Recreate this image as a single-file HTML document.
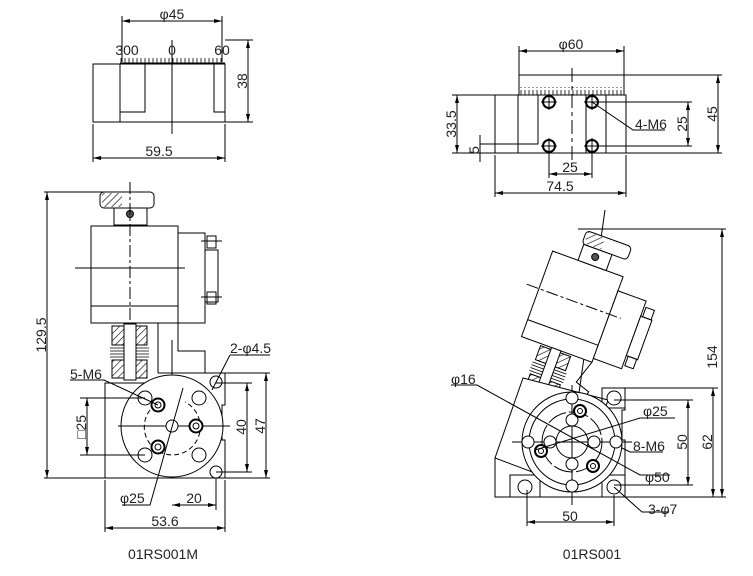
<!DOCTYPE html>
<html><head><meta charset="utf-8"><style>
html,body{margin:0;padding:0;background:#fff;}
svg{display:block;font-family:"Liberation Sans",sans-serif;}
text{font-size:14px;fill:#222;}
</style></head><body>
<svg width="753" height="576" viewBox="0 0 753 576" xmlns="http://www.w3.org/2000/svg">
<defs>
<pattern id="h" width="5" height="5" patternUnits="userSpaceOnUse" patternTransform="rotate(45)"><rect width="5" height="5" fill="#fff"/><line x1="0" y1="0" x2="0" y2="5" stroke="#000" stroke-width="1.2"/></pattern>
<pattern id="tk" width="4" height="8" patternUnits="userSpaceOnUse"><line x1="1" y1="2" x2="1" y2="8" stroke="#000" stroke-width="0.8"/></pattern>
<marker id="a" markerWidth="8" markerHeight="6" refX="8" refY="3" orient="auto-start-reverse"><path d="M0,1 L8,3 L0,5z" fill="#000"/></marker>
</defs>
<g stroke="#000" stroke-width="1" fill="none">
<!-- TOP LEFT -->
<line x1="122" y1="16" x2="122" y2="62"/><line x1="222" y1="16" x2="222" y2="62"/>
<line x1="122" y1="21" x2="222" y2="21" marker-start="url(#a)" marker-end="url(#a)"/>
<rect x="120" y="56" width="104" height="7" fill="url(#tk)" stroke="none"/>
<line x1="120" y1="63" x2="225" y2="63"/>
<rect x="93" y="64" width="132" height="58"/>
<line x1="120" y1="64" x2="120" y2="122"/><polyline points="120,112 145,112 145,64"/>
<polyline points="214,64 214,112 225,112"/>
<line x1="172" y1="40" x2="172" y2="134"/>
<line x1="225" y1="40" x2="253" y2="40"/><line x1="225" y1="122" x2="253" y2="122"/>
<line x1="248" y1="40" x2="248" y2="122" marker-start="url(#a)" marker-end="url(#a)"/>
<line x1="93" y1="124" x2="93" y2="162"/><line x1="225" y1="124" x2="225" y2="162"/>
<line x1="93" y1="158" x2="225" y2="158" marker-start="url(#a)" marker-end="url(#a)"/>

<!-- LEFT LOWER -->
<line x1="44" y1="192" x2="110" y2="192"/><line x1="44" y1="478" x2="105" y2="478"/>
<line x1="47" y1="192" x2="47" y2="478" marker-start="url(#a)" marker-end="url(#a)"/>
<rect x="100" y="192" width="54" height="16" rx="4"/>
<rect x="102" y="193" width="20" height="14" fill="url(#h)" stroke="none"/>
<rect x="114" y="208" width="33" height="17"/>
<circle cx="130" cy="214" r="3.5" fill="#555"/>
<rect x="91" y="226" width="87" height="97"/>
<line x1="91" y1="306" x2="178" y2="306"/>
<rect x="178" y="233" width="27" height="90"/>
<rect x="205" y="250" width="13" height="52"/>
<rect x="207" y="236" width="9" height="12"/><rect x="207" y="292" width="9" height="12"/>
<line x1="201" y1="241" x2="222" y2="241"/><line x1="201" y1="297" x2="222" y2="297"/>
<line x1="130" y1="182" x2="130" y2="350" stroke-dasharray="12,3,3,3"/>
<line x1="75" y1="268" x2="185" y2="268"/>
<rect x="112" y="326" width="35" height="19" fill="url(#h)"/>
<rect x="112" y="360" width="35" height="18" fill="url(#h)"/>
<g stroke-width="0.8"><line x1="110" y1="348" x2="149" y2="348"/><line x1="110" y1="351" x2="149" y2="351"/><line x1="110" y1="354" x2="149" y2="354"/><line x1="110" y1="357" x2="149" y2="357"/></g>
<rect x="124" y="324" width="12" height="56" fill="#fff"/>
<line x1="158" y1="323" x2="158" y2="373"/>
<polyline points="178,323 178,351 205,351 205,373"/>
<polyline points="158,373 225,373 225,405 222,405 222,440 225,440 225,478 105,478 105,383 160,383"/>
<line x1="172" y1="340" x2="172" y2="478"/>
<circle cx="172" cy="426" r="51" fill="#fff"/>
<path d="M150,410 A28,28 0 1 0 185,402" stroke-dasharray="5,3"/>
<line x1="118" y1="426" x2="230" y2="426"/>
<g fill="#fff"><circle cx="145" cy="398" r="7"/><circle cx="199" cy="398" r="7"/><circle cx="145" cy="455" r="7"/><circle cx="199" cy="455" r="7"/>
<circle cx="158" cy="405" r="6.5" stroke-width="2"/><circle cx="196" cy="426" r="6.5" stroke-width="2"/><circle cx="158" cy="447" r="6.5" stroke-width="2"/>
<circle cx="172" cy="426" r="6"/><circle cx="216" cy="382" r="6"/><circle cx="216" cy="472" r="6"/></g>
<circle cx="158" cy="405" r="3"/><circle cx="196" cy="426" r="3"/><circle cx="158" cy="447" r="3"/>
<line x1="80" y1="398" x2="145" y2="398"/><line x1="80" y1="455" x2="145" y2="455"/>
<line x1="87" y1="398" x2="87" y2="455" marker-start="url(#a)" marker-end="url(#a)"/>
<line x1="216" y1="383" x2="252" y2="383"/><line x1="216" y1="472" x2="252" y2="472"/>
<line x1="247" y1="383" x2="247" y2="472" marker-start="url(#a)" marker-end="url(#a)"/>
<line x1="225" y1="373" x2="270" y2="373"/><line x1="225" y1="478" x2="270" y2="478"/>
<line x1="266" y1="373" x2="266" y2="478" marker-start="url(#a)" marker-end="url(#a)"/>
<line x1="216" y1="478" x2="216" y2="510"/>
<line x1="172" y1="505" x2="216" y2="505" marker-start="url(#a)" marker-end="url(#a)"/>
<line x1="105" y1="480" x2="105" y2="532"/><line x1="225" y1="480" x2="225" y2="532"/>
<line x1="105" y1="528" x2="225" y2="528" marker-start="url(#a)" marker-end="url(#a)"/>
<polyline points="70,380 104,380 158,405"/>
<polyline points="230,355 270,355"/><line x1="230" y1="355" x2="212" y2="390"/>
<polyline points="122,505 150,505 183,388"/>

<!-- TOP RIGHT -->
<line x1="519" y1="46" x2="519" y2="95"/><line x1="624" y1="46" x2="624" y2="95"/>
<line x1="519" y1="51" x2="624" y2="51" marker-start="url(#a)" marker-end="url(#a)"/>
<line x1="519" y1="75" x2="722" y2="75"/>
<rect x="519" y="87" width="105" height="8" fill="url(#tk)" stroke="none"/>
<line x1="452" y1="95" x2="626" y2="95"/>
<line x1="452" y1="153" x2="626" y2="153"/>
<rect x="495" y="95" width="131" height="58"/>
<line x1="518" y1="95" x2="518" y2="153"/><polyline points="538,95 538,144 480,144"/>
<line x1="586" y1="95" x2="586" y2="153"/><line x1="606" y1="95" x2="606" y2="153"/>
<line x1="572" y1="68" x2="572" y2="160" stroke-dasharray="14,4,4,4"/>
<g stroke-width="2" fill="#fff"><circle cx="549" cy="102" r="6"/><circle cx="592" cy="102" r="6"/><circle cx="549" cy="146" r="6"/><circle cx="592" cy="146" r="6"/></g>
<line x1="541" y1="102" x2="557" y2="102"/><line x1="549" y1="94" x2="549" y2="110"/>
<line x1="584" y1="102" x2="692" y2="102"/><line x1="592" y1="94" x2="592" y2="110"/>
<line x1="541" y1="146" x2="557" y2="146"/><line x1="549" y1="138" x2="549" y2="178"/>
<line x1="584" y1="146" x2="692" y2="146"/><line x1="592" y1="138" x2="592" y2="178"/>
<line x1="457" y1="95" x2="457" y2="153" marker-start="url(#a)" marker-end="url(#a)"/>
<line x1="480" y1="135" x2="480" y2="162"/>
<line x1="688" y1="102" x2="688" y2="146" marker-start="url(#a)" marker-end="url(#a)"/>
<line x1="626" y1="153" x2="722" y2="153"/>
<line x1="718" y1="75" x2="718" y2="153" marker-start="url(#a)" marker-end="url(#a)"/>
<line x1="549" y1="174" x2="592" y2="174" marker-start="url(#a)" marker-end="url(#a)"/>
<line x1="495" y1="155" x2="495" y2="197"/><line x1="626" y1="155" x2="626" y2="197"/>
<line x1="495" y1="193" x2="626" y2="193" marker-start="url(#a)" marker-end="url(#a)"/>
<polyline points="592,102 633,130 665,130"/>

<!-- BOTTOM RIGHT -->
<line x1="578" y1="229" x2="726" y2="229"/>
<line x1="722" y1="229" x2="722" y2="497" marker-start="url(#a)" marker-end="url(#a)"/>
<line x1="605" y1="210" x2="572" y2="442"/>
<g transform="translate(572,306) rotate(20)">
<rect x="-37" y="-45" width="75" height="91" fill="#fff"/>
<line x1="-37" y1="28" x2="38" y2="28"/>
<rect x="38" y="-30" width="30" height="72" fill="#fff"/>
<rect x="68" y="-14" width="12" height="42" fill="#fff"/>
<rect x="70" y="-24" width="9" height="10"/><rect x="70" y="28" width="9" height="10"/>
<rect x="-10" y="-62" width="30" height="17" fill="#fff"/>
<rect x="-12" y="-76" width="48" height="14" rx="4" fill="#fff"/>
<rect x="-10" y="-75" width="18" height="12" fill="url(#h)" stroke="none"/>
<circle cx="5" cy="-54" r="3.5" fill="#555"/>
<line x1="-50" y1="-5" x2="50" y2="-5" stroke-dasharray="12,3,3,3"/>
<rect x="-16" y="48" width="32" height="15" fill="url(#h)"/>
<rect x="-16" y="78" width="32" height="15" fill="url(#h)"/>
<g stroke-width="0.8"><line x1="-18" y1="66" x2="18" y2="66"/><line x1="-18" y1="69" x2="18" y2="69"/><line x1="-18" y1="72" x2="18" y2="72"/><line x1="-18" y1="75" x2="18" y2="75"/></g>
<rect x="-5" y="46" width="10" height="50" fill="#fff"/>
<polyline points="38,46 30,70 45,75 40,92"/>
</g>
<polygon points="523,378 495,458 580,490 608,400" fill="#fff"/>
<polyline points="495,458 495,497 625,497 625,440 622,440 622,410 625,410 625,388 605,388"/>
<rect x="510" y="475" width="30" height="22"/><rect x="602" y="475" width="23" height="22"/><rect x="602" y="388" width="23" height="20"/>
<circle cx="572" cy="442" r="50" fill="#fff"/>
<circle cx="572" cy="442" r="43"/>
<circle cx="572" cy="442" r="30" stroke-dasharray="20,3"/>
<circle cx="572" cy="442" r="16"/>
<line x1="512" y1="442" x2="632" y2="442"/><line x1="572" y1="385" x2="572" y2="505"/>
<g fill="#fff"><circle cx="572" cy="398" r="6"/><circle cx="572" cy="420" r="6"/><circle cx="550" cy="442" r="6"/><circle cx="594" cy="442" r="6"/><circle cx="528" cy="442" r="6"/><circle cx="616" cy="442" r="6"/><circle cx="572" cy="464" r="6"/><circle cx="572" cy="486" r="6"/>
<circle cx="580" cy="411" r="6" stroke-width="2"/><circle cx="541" cy="451" r="6" stroke-width="2"/><circle cx="593" cy="466" r="6" stroke-width="2"/>
<circle cx="525" cy="487" r="7"/><circle cx="614" cy="487" r="7"/><circle cx="614" cy="398" r="7"/></g>
<circle cx="580" cy="411" r="2.5"/><circle cx="541" cy="451" r="2.5"/><circle cx="593" cy="466" r="2.5"/>
<polyline points="451,385 477,385 640,475 670,475"/>
<polyline points="675,418 640,418 535,450"/>
<polyline points="663,452 630,452 622,448"/>
<polyline points="669,512 642,512 614,487"/>
<line x1="614" y1="400" x2="693" y2="400"/><line x1="614" y1="485" x2="693" y2="485"/>
<line x1="688" y1="400" x2="688" y2="485" marker-start="url(#a)" marker-end="url(#a)"/>
<line x1="625" y1="388" x2="718" y2="388"/><line x1="625" y1="497" x2="726" y2="497"/>
<line x1="713" y1="388" x2="713" y2="497" marker-start="url(#a)" marker-end="url(#a)"/>
<line x1="527" y1="490" x2="527" y2="526"/><line x1="614" y1="495" x2="614" y2="526"/>
<line x1="527" y1="522" x2="614" y2="522" marker-start="url(#a)" marker-end="url(#a)"/>
</g>
<g>
<text x="172" y="19" text-anchor="middle">φ45</text>
<text x="127" y="55" text-anchor="middle">300</text><text x="172" y="55" text-anchor="middle">0</text><text x="222" y="55" text-anchor="middle">60</text>
<text transform="translate(247,81) rotate(-90)" text-anchor="middle">38</text>
<text x="159" y="156" text-anchor="middle">59.5</text>
<text transform="translate(46,335) rotate(-90)" text-anchor="middle">129.5</text>
<text x="70" y="379">5-M6</text>
<text x="230" y="353">2-φ4.5</text>
<text transform="translate(86,427) rotate(-90)" text-anchor="middle">□25</text>
<text transform="translate(246,427) rotate(-90)" text-anchor="middle">40</text>
<text transform="translate(265,426) rotate(-90)" text-anchor="middle">47</text>
<text x="120" y="503">φ25</text>
<text x="194" y="503" text-anchor="middle">20</text>
<text x="165" y="526" text-anchor="middle">53.6</text>
<text x="163" y="559" text-anchor="middle">01RS001M</text>
<text x="571" y="49" text-anchor="middle">φ60</text>
<text transform="translate(456,124) rotate(-90)" text-anchor="middle">33.5</text>
<text transform="translate(479,150) rotate(-90)" text-anchor="middle">5</text>
<text x="635" y="129">4-M6</text>
<text transform="translate(687,124) rotate(-90)" text-anchor="middle">25</text>
<text transform="translate(717,114) rotate(-90)" text-anchor="middle">45</text>
<text x="570" y="172" text-anchor="middle">25</text>
<text x="560" y="191" text-anchor="middle">74.5</text>
<text transform="translate(717,357) rotate(-90)" text-anchor="middle">154</text>
<text x="451" y="384">φ16</text>
<text x="643" y="416">φ25</text>
<text x="633" y="451">8-M6</text>
<text transform="translate(687,442) rotate(-90)" text-anchor="middle">50</text>
<text transform="translate(712,442) rotate(-90)" text-anchor="middle">62</text>
<text x="645" y="482">φ50</text>
<text x="648" y="514">3-φ7</text>
<text x="570" y="521" text-anchor="middle">50</text>
<text x="592" y="559" text-anchor="middle">01RS001</text>
</g>
</svg>
</body></html>
